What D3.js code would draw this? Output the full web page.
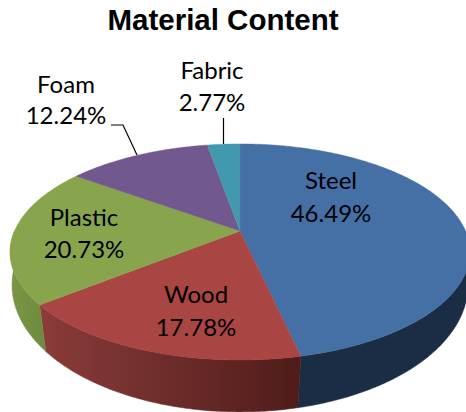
<!DOCTYPE html>
<html><head>
<meta charset="utf-8">
<title>Material Content</title>
<script src="https://d3js.org/d3.v7.min.js"></script>
<style>
  html, body { margin: 0; padding: 0; background: #fff; overflow: hidden; }
  svg { display: block; }
  text { fill: #000; }
</style>
</head>
<body>
<div id="container"></div>
<script>
  const materials = ["Steel", "Wood", "Plastic", "Foam", "Fabric"];
  const percents = [46.49, 17.78, 20.73, 12.24, 2.77];
  const topColors = ["#4470a6", "#a94543", "#88a54e", "#71588e", "#4198af"];
  // wall shades, left edge and right edge of each slice
  const wallLeft = ["#1b2d45", "#8a3c3a", "#7a9645", "#5a4672", "#357a8c"];
  const wallRight = ["#1b2d45", "#4f1c1a", "#6f8a3e", "#5a4672", "#357a8c"];

  const width = 466, height = 412;
  const svg = d3.select("#container").append("svg")
                .attr("width", width).attr("height", height);

  // Tilted pie: the far side is foreshortened, so project the unit circle
  const topFace = { cx: 240, cy: 231, rx: 225.5, ry: 104, tilt: 0.194 };
  const baseFace = { cx: 240, cy: 266, rx: 225.4, ry: 124, tilt: 0.15 };
  const project = (a, f) => {
    const u = Math.sin(a), v = -Math.cos(a), d = 1 - f.tilt * v;
    return [f.cx + f.rx * u / d, f.cy + f.ry * v / d];
  };
  const arcPoints = (a0, a1, f) => {
    const n = Math.max(2, Math.ceil((a1 - a0) / 0.01));
    return d3.range(n + 1).map(i => project(a0 + (a1 - a0) * i / n, f));
  };

  const slices = d3.pie().sort(null).value(d => d)
                   .startAngle(0).endAngle(2 * Math.PI)(percents);
  const line = d3.line();
  const defs = svg.append("defs");

  // Side wall, only the front half can be seen
  const frontStart = Math.PI / 2, frontEnd = 3 * Math.PI / 2;
  slices.forEach((s, i) => {
    const a0 = Math.max(s.startAngle, frontStart);
    const a1 = Math.min(s.endAngle, frontEnd);
    if (a1 <= a0) return;
    const pts = arcPoints(a0, a1, topFace).concat(arcPoints(a0, a1, baseFace).reverse());
    const grad = defs.append("linearGradient").attr("id", "wall" + i)
                     .attr("x1", 0).attr("x2", 1).attr("y1", 0).attr("y2", 0);
    grad.append("stop").attr("offset", 0).attr("stop-color", wallLeft[i]);
    grad.append("stop").attr("offset", 1).attr("stop-color", wallRight[i]);
    svg.append("path").attr("d", line(pts) + "Z")
       .attr("fill", "url(#wall" + i + ")")
       .attr("stroke", "url(#wall" + i + ")").attr("stroke-width", 0.5);
  });

  // Top face
  slices.forEach((s, i) => {
    const pts = arcPoints(s.startAngle, s.endAngle, topFace);
    pts.push([topFace.cx, topFace.cy]);
    svg.append("path").attr("d", line(pts) + "Z")
       .attr("fill", topColors[i])
       .attr("stroke", topColors[i]).attr("stroke-width", 0.4);
  });

  // Leader lines
  const leaders = { Foam: [[111, 125], [123, 125], [137, 155]], Fabric: [[223.5, 118], [223.5, 144]] };
  Object.values(leaders).forEach(p => {
    svg.append("path").attr("d", line(p)).attr("fill", "none")
       .attr("stroke", "#000").attr("stroke-width", 1.2);
  });

  // Title and labels
  svg.append("text").attr("x", 223).attr("y", 30).attr("text-anchor", "middle")
     .style("font", "bold 29.5px 'Liberation Sans', Arial, sans-serif")
     .text("Material Content");

  const labelPos = { Steel: [331, 189, 222], Wood: [196, 303, 336], Plastic: [84, 226, 258],
                     Foam: [66, 93, 124], Fabric: [212, 79, 111] };
  materials.forEach((m, i) => {
    const p = labelPos[m];
    const t = svg.append("text").attr("text-anchor", "middle")
                 .style("font", "24px Lato, 'Open Sans', sans-serif");
    t.append("tspan").attr("x", p[0]).attr("y", p[1]).text(m);
    t.append("tspan").attr("x", p[0]).attr("y", p[2]).text(percents[i].toFixed(2) + "%");
  });
</script>
</body></html>
